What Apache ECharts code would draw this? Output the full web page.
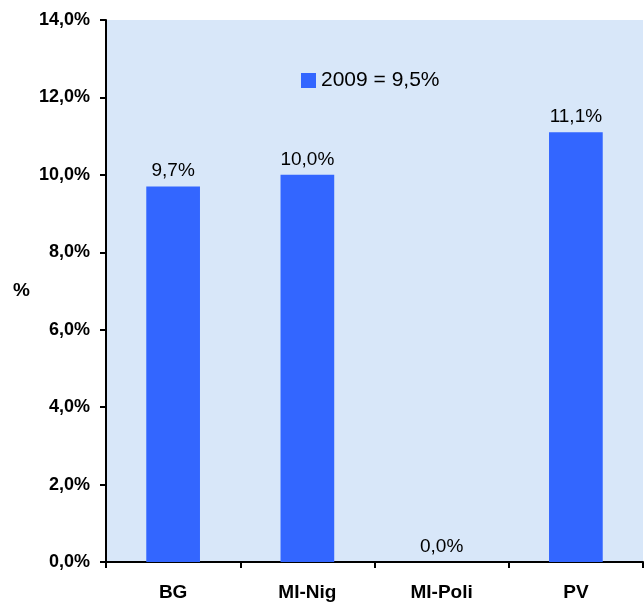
<!DOCTYPE html>
<html><head><meta charset="utf-8">
<script src="https://cdn.jsdelivr.net/npm/echarts@6/dist/echarts.min.js"></script>
<style>html,body{margin:0;padding:0;background:#fff}#c{width:644px;height:603px}</style>
</head><body><div id="c"></div>
<script>
var categories = ['BG', 'MI-Nig', 'MI-Poli', 'PV'];
var values2009 = [9.7, 10.0, 0.0, 11.1];
var seriesName = '2009 = 9,5%';
var yMin = 0, yMax = 14, yStep = 2;

function pct(v){ return v.toFixed(1).replace('.', ',') + '%'; }

var chart = echarts.init(document.getElementById('c'));
chart.setOption({
  animation: false,
  textStyle: { fontFamily: 'Liberation Sans, Arial, sans-serif' },
  grid: { left: 106, right: 1, top: 20, bottom: 41, show: true, backgroundColor: '#d8e7f9', borderWidth: 0 },
  legend: {
    data: [seriesName], left: 296, top: 65, icon: 'rect', itemWidth: 15, itemHeight: 15, itemGap: 5,
    textStyle: { fontSize: 21, color: '#000', fontFamily: 'Liberation Sans, Arial, sans-serif' }
  },
  xAxis: {
    type: 'category', data: categories,
    axisLine: { lineStyle: { color: '#000', width: 2 } },
    axisTick: { show: true, length: 6, lineStyle: { color: '#000', width: 2 } },
    axisLabel: { fontSize: 19, fontWeight: 'bold', color: '#000', margin: 21 }
  },
  yAxis: {
    type: 'value', min: yMin, max: yMax, interval: yStep,
    name: '%', nameLocation: 'middle', nameGap: 76, nameRotate: 0,
    nameTextStyle: { fontSize: 19, fontWeight: 'bold', color: '#000' },
    axisLine: { show: true, lineStyle: { color: '#000', width: 2 } },
    axisTick: { show: true, length: 6, lineStyle: { color: '#000', width: 2 } },
    splitLine: { show: false },
    axisLabel: { fontSize: 18, fontWeight: 'bold', color: '#000', margin: 16, formatter: function(v){ return pct(v); } }
  },
  series: [{
    name: seriesName, type: 'bar', data: values2009, barWidth: '40%',
    itemStyle: { color: '#3366ff' },
    label: { show: true, position: 'top', distance: 6, fontSize: 19, color: '#000',
      formatter: function(p){ return pct(p.value); } }
  }]
});
</script></body></html>
